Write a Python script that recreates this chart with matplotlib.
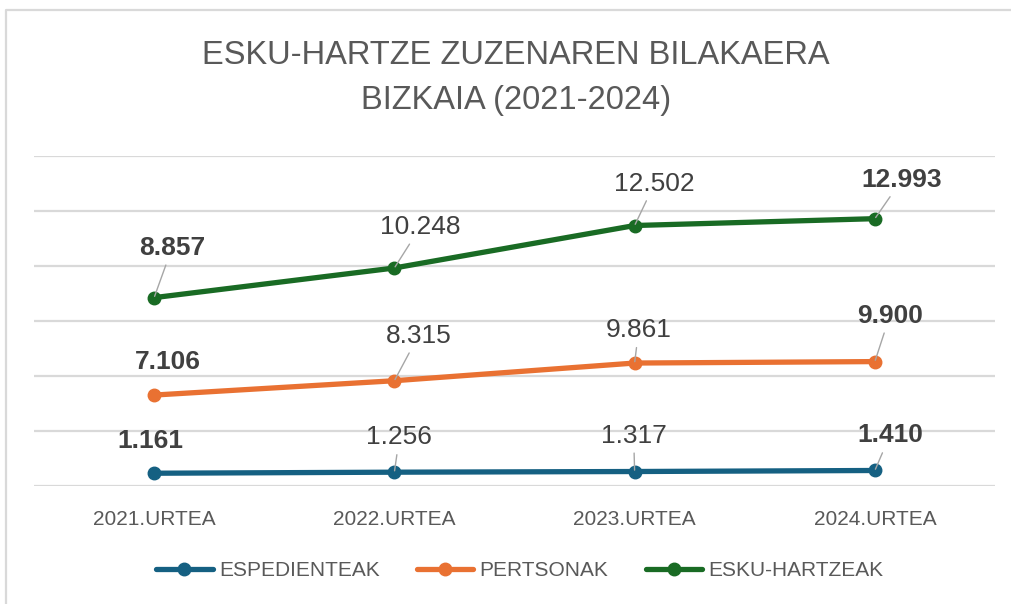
import matplotlib
matplotlib.use("Agg")
import matplotlib.pyplot as plt
import numpy as np
from matplotlib.lines import Line2D

# Data (stacked line chart: each series sits on top of the previous one)
years = ["2021.URTEA", "2022.URTEA", "2023.URTEA", "2024.URTEA"]
espedienteak = [1161, 1256, 1317, 1410]
pertsonak = [7106, 8315, 9861, 9900]
esku_hartzeak = [8857, 10248, 12502, 12993]
series_names = ["ESPEDIENTEAK", "PERTSONAK", "ESKU-HARTZEAK"]
colors = ["#156082", "#E97132", "#196B24"]
bold_points = [0, 3]  # first and last labels are bold

# label offsets in pixels (dx, dy) and whether a leader line is drawn
label_offsets = [
    [(-4, 32), (5, 35), (-1, 36), (15, 35)],
    [(14, 33), (24, 45), (4, 33), (15, 46)],
    [(18, 50), (26, 41), (20, 42), (27, 39)],
]
leaders = [
    [False, True, True, True],
    [False, True, True, True],
    [True, True, True, True],
]

plt.rcParams["font.family"] = ["Liberation Sans", "DejaVu Sans"]
grid_color = "#D9D9D9"
label_color = "#404040"
text_color = "#595959"

W, H = 1011, 604
fig = plt.figure(figsize=(W / 100, H / 100), dpi=100)
fig.patch.set_facecolor("white")

# chart border (top and left visible)
fig.add_artist(Line2D([6 / W, 6 / W, 1], [0, 1 - 10 / H, 1 - 10 / H],
                      color=grid_color, lw=1.6, transform=fig.transFigure))

ax = fig.add_axes([34 / W, 1 - 486 / H, (995 - 34) / W, (486 - 156) / H])
x = np.arange(len(years))
values = [espedienteak, pertsonak, esku_hartzeak]
stacked = np.cumsum(np.array(values), axis=0)

for i, name in enumerate(series_names):
    ax.plot(x, stacked[i], color=colors[i], lw=3.8, marker="o", ms=9,
            solid_capstyle="round", label=name, zorder=3)
    for j, v in enumerate(values[i]):
        txt = f"{v:,}".replace(",", ".")
        arrow = None
        if leaders[i][j]:
            arrow = dict(arrowstyle="-", color="#A6A6A6", lw=1.0,
                         shrinkA=2, shrinkB=1)
        ax.annotate(txt, xy=(x[j], stacked[i][j]), xytext=label_offsets[i][j],
                    textcoords="offset pixels", ha="center", va="center",
                    fontsize=19, color=label_color,
                    fontweight="bold" if j in bold_points else "normal",
                    arrowprops=arrow, zorder=4)

ax.set_xlim(-0.5, len(years) - 0.5)
ax.set_ylim(0, 30000)
ax.set_yticks(np.arange(0, 30001, 5000))
ax.set_yticklabels([])
ax.set_xticks(x)
ax.set_xticklabels(years, fontsize=15, color=text_color)
ax.tick_params(length=0, pad=17)
ax.grid(axis="y", color=grid_color, lw=1.6)
ax.set_axisbelow(True)
for s in ax.spines.values():
    s.set_visible(False)

fig.text(516 / W, 1 - 55 / H, "ESKU-HARTZE ZUZENAREN BILAKAERA",
         ha="center", va="center", fontsize=23.5, color=text_color)
fig.text(516 / W, 1 - 100 / H, "BIZKAIA (2021-2024)",
         ha="center", va="center", fontsize=23.5, color=text_color)

fig.legend(loc="center", bbox_to_anchor=(520 / W, 1 - 571 / H), ncol=3,
           frameon=False, fontsize=15, labelcolor=text_color,
           handlelength=2.7, handletextpad=0.3, columnspacing=1.8)

fig.savefig("out.png", dpi=100)
